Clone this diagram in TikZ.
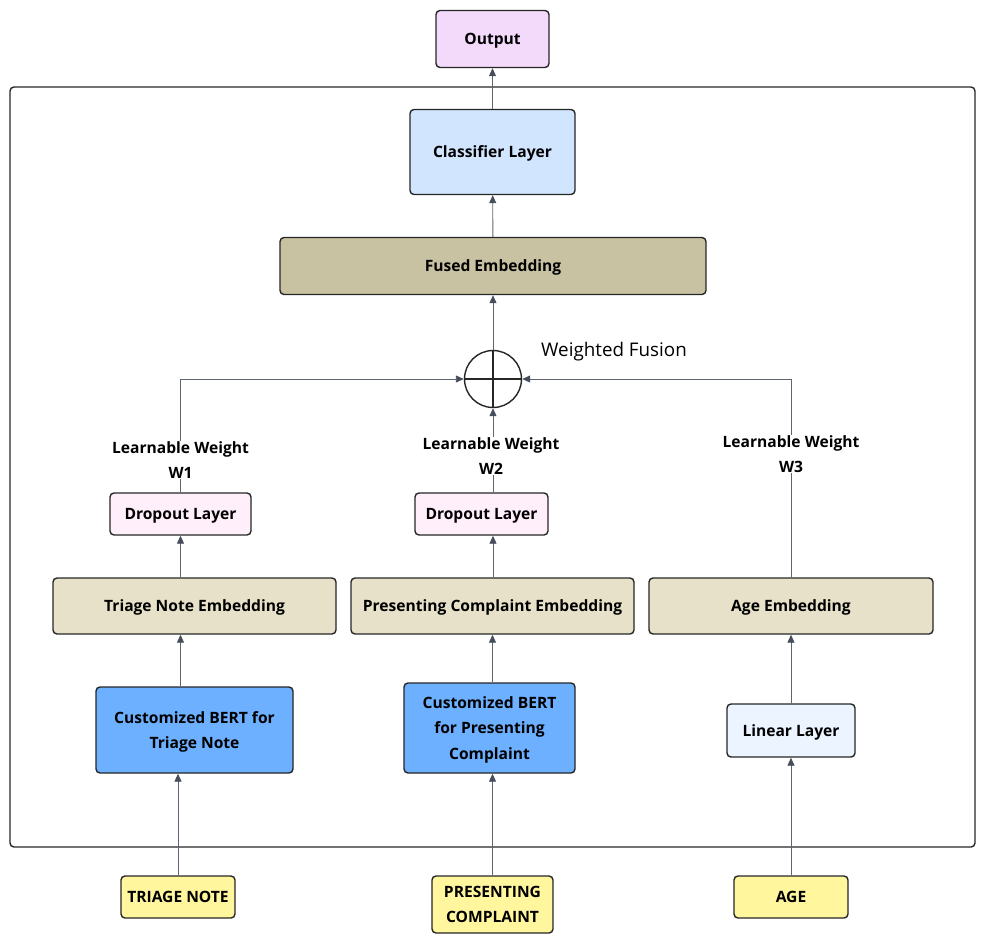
\documentclass[tikz,border=0pt]{standalone}
\usepackage{fontspec}
\setmainfont{Open Sans}
\usepackage{xcolor}
\usetikzlibrary{positioning,arrows.meta}
\definecolor{outfill}{HTML}{F3DAFB}
\definecolor{clsfill}{HTML}{D1E5FF}
\definecolor{fusedfill}{HTML}{C9C2A2}
\definecolor{embfill}{HTML}{E7E1C9}
\definecolor{dropfill}{HTML}{FFEFFA}
\definecolor{bertfill}{HTML}{6CB0FF}
\definecolor{linfill}{HTML}{EBF4FF}
\definecolor{infill}{HTML}{FFF69E}
\definecolor{wirecol}{HTML}{5F6570}
\definecolor{tipcol}{HTML}{474E5B}

\begin{document}
\begin{tikzpicture}[x=1pt,y=-1pt,
  box/.style={draw=black!85,line width=1.4pt,rounded corners=4pt,align=center,inner sep=0pt,
    text depth=0pt,font=\fontsize{15.6}{25.5}\selectfont\bfseries},
  wire/.style={draw=wirecol,line width=0.9pt},
  arr/.style={wire,-{Triangle[length=8pt,width=7pt,color=tipcol]}},
  lbl/.style={fill=white,inner sep=1pt,align=center,font=\fontsize{15.6}{24.5}\selectfont\bfseries}]
  \useasboundingbox (0,0) rectangle (986,943);
  % frame round the model
  \node[draw=black!85,line width=1.4pt,rounded corners=4pt,minimum width=965pt,minimum height=760pt] (frame) at (492.5,467) {};
  % top part
  \node[box,fill=outfill,minimum width=113pt,minimum height=57pt] (out) at (492.5,39) {Output};
  \node[box,fill=clsfill,minimum width=165pt,minimum height=85pt] (cls) at (492.5,152) {Classifier Layer};
  \node[box,fill=fusedfill,minimum width=426pt,minimum height=57pt] (fused) at (493,266) {Fused Embedding};
  \node[circle,draw=black!85,line width=1.4pt,minimum size=57pt,inner sep=0pt] (fuse) at (493,379) {};
  \draw[line width=1.4pt,black!85] (fuse.north) -- (fuse.south) (fuse.west) -- (fuse.east);
  \node[font=\fontsize{18.8}{22}\selectfont] (wf) at (614,352) {Weighted Fusion};
  % branch nodes
  \node[box,fill=dropfill,minimum width=141pt,minimum height=42pt] (drop1) at (180.5,514) {Dropout Layer};
  \node[box,fill=dropfill,minimum width=133pt,minimum height=42pt] (drop2) at (481.5,514) {Dropout Layer};
  \node[box,fill=embfill,minimum width=283pt,minimum height=56pt] (emb1) at (194.5,606) {Triage Note Embedding};
  \node[box,fill=embfill,minimum width=283pt,minimum height=56pt] (emb2) at (492.5,606) {Presenting Complaint Embedding};
  \node[box,fill=embfill,minimum width=284pt,minimum height=56pt] (emb3) at (791,606) {Age Embedding};
  \node[box,fill=bertfill,minimum width=197pt,minimum height=86pt] (bert1) at (194.5,730) {Customized BERT for\\Triage Note};
  \node[box,fill=bertfill,minimum width=171pt,minimum height=90pt] (bert2) at (489.5,728) {Customized BERT\\for Presenting\\Complaint};
  \node[box,fill=linfill,minimum width=128pt,minimum height=53pt] (lin) at (791,730.5) {Linear Layer};
  % inputs
  \node[box,fill=infill,minimum width=114pt,minimum height=42pt] (in1) at (178,897) {TRIAGE NOTE};
  \node[box,fill=infill,minimum width=121pt,minimum height=57pt] (in2) at (492.5,904.5) {PRESENTING\\COMPLAINT};
  \node[box,fill=infill,minimum width=114pt,minimum height=42pt] (in3) at (791,897) {AGE};
  % connectors
  \draw[arr] (in1) -- (in1 |- bert1.south);
  \draw[arr] (in2) -- (in2 |- bert2.south);
  \draw[arr] (in3) -- (lin);
  \draw[arr] (bert1.north -| drop1) -- (drop1 |- emb1.south);
  \draw[arr] (bert2.north -| in2) -- (in2 |- emb2.south);
  \draw[arr] (lin) -- (emb3);
  \draw[arr] (emb1.north -| drop1) -- (drop1);
  \draw[arr] (emb2.north -| fuse) -- (fuse |- drop2.south);
  \draw[arr] (drop1) |- (fuse.west);
  \draw[arr] (drop2.north -| fuse) -- (fuse);
  \draw[arr] (emb3) |- (fuse.east);
  \draw[arr] (fuse) -- (fused);
  \draw[arr] (fused) -- (cls);
  \draw[arr] (cls) -- (out);
  % weight labels
  \node[lbl] (w1) at (180.5,460) {Learnable Weight\\W1};
  \node[lbl] (w2) at (491,456) {Learnable Weight\\W2};
  \node[lbl] (w3) at (791,454) {Learnable Weight\\W3};
\end{tikzpicture}
\end{document}
